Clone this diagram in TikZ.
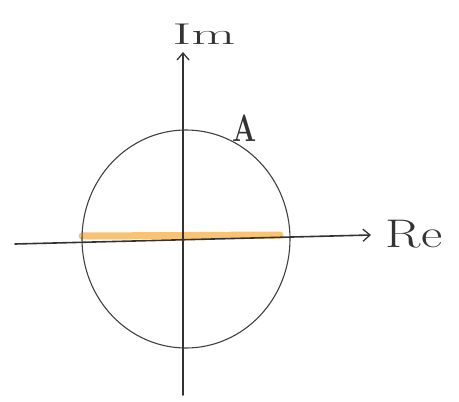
\documentclass[tikz,border=0pt]{standalone}
\usetikzlibrary{arrows.meta}
\begin{document}
\begin{tikzpicture}[x=1pt,y=-1pt,
  axis/.style={draw=black!80,line width=1.6pt,line cap=round},
  axisarrow/.style={axis,-{Straight Barb[length=7pt,width=12pt,line width=1.3pt]}},
  circ/.style={draw=black!75,line width=1.1pt},
  hl/.style={draw={rgb,255:red,245;green,175;blue,70},line width=7pt,opacity=0.75,line cap=round},
  lbl/.style={text=black!80,inner sep=0pt}]
\useasboundingbox (0,0) rectangle (459,402);
\coordinate (c) at (186,239);
\coordinate (hl1) at (82,236);
\coordinate (hl2) at (280,235);
\draw[hl] (hl1) -- (hl2);
\draw[circ] (c) ellipse [x radius=104, y radius=109];
\coordinate (xs) at (15,244);
\coordinate (xe) at (371,235);
\coordinate (ys) at (183,395);
\coordinate (ye) at (183,52);
\draw[axisarrow] (xs) -- (xe);
\draw[axisarrow] (ys) -- (ye);
\node[lbl,font=\fontsize{30}{30}\selectfont,xscale=1.9] (im) at (204,34) {Im};
\node[lbl,font=\fontsize{40}{40}\selectfont,xscale=1.3] (re) at (414,234) {Re};
\node[lbl,font=\fontsize{38}{38}\selectfont\bfseries,xscale=0.75] (a) at (245,128) {A};
\end{tikzpicture}
\end{document}
